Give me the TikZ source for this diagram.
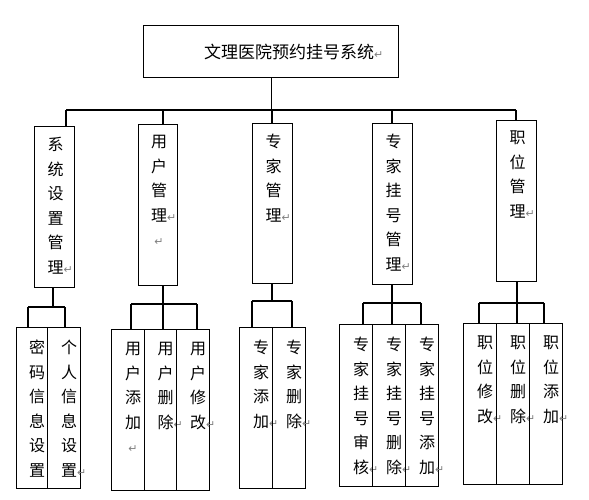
\documentclass[tikz,border=0pt]{standalone}
\usepackage{fontspec}
\newfontfamily\cjk{Noto Sans CJK SC}
\newfontfamily\retfont{DejaVu Sans}
\newcommand\ret{\rlap{\retfont\fontsize{11}{11}\selectfont\textcolor{gray}{↵}}}
\newcommand\retline{\makebox[0pt]{\retfont\fontsize{11}{11}\selectfont\textcolor{gray}{↵}}}
\tikzset{
	box/.style={draw, line width=1.2pt, inner sep=0pt, anchor=north west},
	vtext/.style={anchor=north, align=center, inner sep=0pt, font=\cjk\fontsize{16}{24.5}\selectfont},
	link/.style={line width=1.2pt}
}
\begin{document}
\begin{tikzpicture}[x=1pt, y=-1pt]
	\useasboundingbox (0,0) rectangle (589,500);
	% root
	\node[box, minimum width=255, minimum height=52] (top) at (143,25) {};
	\node[inner sep=0pt, font=\cjk\fontsize{17}{17}\selectfont] (title) at ([xshift=18]top.center) {文理医院预约挂号系统\ret};
	% modules
	\foreach \name/\xl/\xr/\yt/\yb/\txt in {
			b1/34/74/126/287/{系\\统\\设\\置\\管\\理\ret},
			b2/138/177/124/285/{用\\户\\管\\理\ret\\\retline},
			b3/252/292/123/283/{专\\家\\管\\理\ret},
			b4/372/412/123/284/{专\\家\\挂\\号\\管\\理\ret},
			b5/496/536/120/281/{职\\位\\管\\理\ret}} {
			\node[box, minimum width=\xr-\xl, minimum height=\yb-\yt] (\name) at (\xl,\yt) {};
			\node[vtext] at ([xshift=1, yshift=-11]\name.north) {\txt};
		}
	% functions
	\foreach \name/\xl/\xr/\yt/\yb/\txt in {
			s11/16/47/327/488/{密\\码\\信\\息\\设\\置},
			s12/47/80/327/488/{个\\人\\信\\息\\设\\置\ret},
			s21/111/144/329/490/{用\\户\\添\\加\\\retline},
			s22/144/176/329/490/{用\\户\\删\\除\ret},
			s23/176/209/329/490/{用\\户\\修\\改\ret},
			s31/239/272/327/488/{专\\家\\添\\加\ret},
			s32/272/305/327/488/{专\\家\\删\\除\ret},
			s41/339/372/324/486/{专\\家\\挂\\号\\审\\核\ret},
			s42/372/405/324/486/{专\\家\\挂\\号\\删\\除\ret},
			s43/405/438/324/486/{专\\家\\挂\\号\\添\\加\ret},
			s51/463/496/323/484/{职\\位\\修\\改\ret},
			s52/496/529/323/484/{职\\位\\删\\除\ret},
			s53/529/562/323/484/{职\\位\\添\\加\ret}} {
			\node[box, minimum width=\xr-\xl, minimum height=\yb-\yt] (\name) at (\xl,\yt) {};
			\node[vtext] at ([xshift=5, yshift=-13]\name.north) {\txt};
		}
	% main bar
	\foreach \i/\x in {1/66,2/163,3/272,4/392,5/516} {
			\coordinate (c\i) at (\x,110);
			\draw[link] (c\i) -- (c\i |- b\i.north);
		}
	\draw[link] (top.south) -- (top.south |- c1);
	\draw[link] (c1) -- (c5);
	% sub bars
	\foreach \i/\x/\y/\l/\r in {1/53/307/28/65, 2/163/304/131/197, 3/272/301/252/292, 4/392/303/363/421, 5/517/303/479/544} {
			\coordinate (d\i) at (\x,\y);
			\coordinate (l\i) at (\l,\y);
			\coordinate (r\i) at (\r,\y);
			\draw[link] (b\i.south -| d\i) -- (d\i);
			\draw[link] (l\i) -- (r\i);
		}
	\foreach \p/\q in {l1/s11, r1/s12, l2/s21, d2/s22, r2/s23, l3/s31, r3/s32, l4/s41, d4/s42, r4/s43, l5/s51, d5/s52, r5/s53}
		\draw[link] (\p) -- (\p |- \q.north);
\end{tikzpicture}
\end{document}
